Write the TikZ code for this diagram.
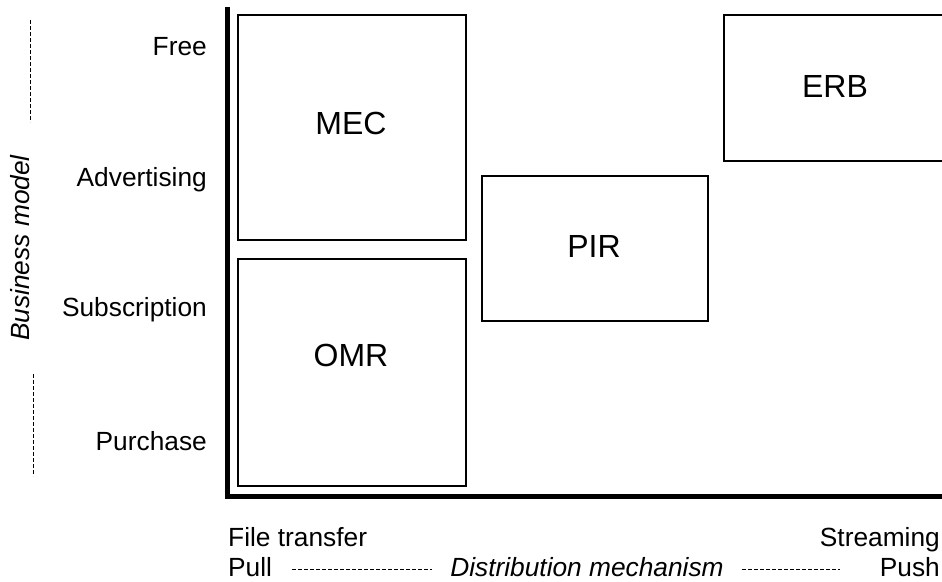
\documentclass[tikz,border=0pt]{standalone}
\usepackage{fontspec}
\setmainfont{Liberation Sans}
\begin{document}
\begin{tikzpicture}[x=1pt,y=-1pt,
  box/.style={draw,line width=2pt,inner sep=0pt,anchor=north west},
  lab/.style={font=\fontsize{26.3}{30}\selectfont,inner sep=0pt},
  big/.style={font=\fontsize{32}{38}\selectfont,inner sep=0pt,anchor=base},
  dsh/.style={line width=0.8pt,dash pattern=on 4pt off 2pt}]
\useasboundingbox (0,0) rectangle (942,581);
% axes
\coordinate (top) at (227,7);
\coordinate (corner) at (227,496);
\coordinate (right) at (945,496);
\draw[line width=5pt] (top) -- (corner) -- (right);
% boxes
\node[box,minimum width=228pt,minimum height=225pt] (mec) at (237,14) {};
\node[box,minimum width=228pt,minimum height=227pt] (omr) at (237,258) {};
\node[box,minimum width=226pt,minimum height=145pt] (pir) at (481,175) {};
\node[box,minimum width=226pt,minimum height=146pt] (erb) at (723,14) {};
\node[big] (mect) at (351,134) {MEC};
\node[big] (omrt) at (351,366) {OMR};
\node[big] (pirt) at (594,257) {PIR};
\node[big] (erbt) at (835,97) {ERB};
% y labels
\node[lab,anchor=base east] (free) at (207,55) {Free};
\node[lab,anchor=base east] (adv) at (207,186) {Advertising};
\node[lab,anchor=base east] (sub) at (207,316) {Subscription};
\node[lab,anchor=base east] (pur) at (207,450) {Purchase};
\node[lab,rotate=90,font=\fontsize{26.3}{30}\selectfont\itshape] (bm) at (20,248) {Business model};
\coordinate (d1a) at (30,20); \coordinate (d1b) at (30,122);
\coordinate (d2a) at (33,374); \coordinate (d2b) at (33,476);
\draw[dsh] (d1a) -- (d1b);
\draw[dsh] (d2a) -- (d2b);
% x labels
\node[lab,anchor=base west] (ft) at (228,546) {File transfer};
\node[lab,anchor=base east] (st) at (940,546) {Streaming};
\node[lab,anchor=base west] (pull) at (228,576) {Pull};
\node[lab,anchor=base east] (push) at (940,576) {Push};
\node[lab,anchor=base,font=\fontsize{26.3}{30}\selectfont\itshape] (dm) at (587,576) {Distribution mechanism};
\coordinate (h1a) at (292,569); \coordinate (h1b) at (432,569);
\coordinate (h2a) at (742,569); \coordinate (h2b) at (840,569);
\draw[dsh] (h1a) -- (h1b);
\draw[dsh] (h2a) -- (h2b);
\end{tikzpicture}
\end{document}
